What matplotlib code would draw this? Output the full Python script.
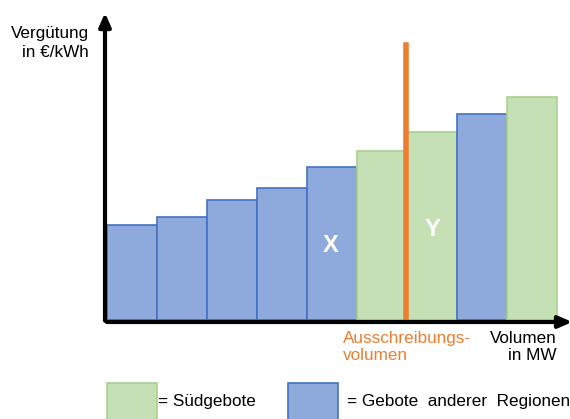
import matplotlib.pyplot as plt
from matplotlib.patches import Rectangle

# Gebote in Merit-Order: Preis je Gebot (Höhe), Region (Süd / andere)
preise = [9.5, 10.3, 12.0, 13.2, 15.3, 16.9, 18.8, 20.6, 22.3]
regionen = ["andere", "andere", "andere", "andere", "andere", "sued", "sued", "andere", "sued"]
ausschreibung = 6.0        # Ausschreibungsvolumen (Anzahl Gebotsblöcke)
linie_hoehe = 27.5

BLAU, BLAU_RAND = "#8EA9DB", "#4472C4"
GRUEN, GRUEN_RAND = "#C5E0B4", "#A9D18E"
ORANGE = "#ED7D31"

plt.rcParams["font.family"] = ["Liberation Sans", "DejaVu Sans"]
FS = 12.3

fig = plt.figure(figsize=(5.7, 4.19), dpi=100)
ax = fig.add_axes([0, 0, 1, 1])
ax.set_xlim(-2.14, 9.26)
ax.set_ylim(-9.9, 32.0)
ax.axis("off")

for i, (p, r) in enumerate(zip(preise, regionen)):
    fc, ec = (GRUEN, GRUEN_RAND) if r == "sued" else (BLAU, BLAU_RAND)
    ax.bar(i, p, width=1, align="edge", color=fc, edgecolor=ec, linewidth=1.2, zorder=2)

# Zuschlagsgrenze
ax.plot([ausschreibung - 0.02] * 2, [0, linie_hoehe], color=ORANGE, lw=4, zorder=3)

# Achsen mit Pfeilen
pfeil = dict(arrowstyle="-|>,head_length=0.8,head_width=0.35", lw=3, color="black")
ax.annotate("", xy=(9.36, -0.2), xytext=(-0.06, -0.2), arrowprops=pfeil,
            annotation_clip=False, zorder=4)
ax.annotate("", xy=(-0.04, 31.0), xytext=(-0.04, -0.35), arrowprops=pfeil,
            annotation_clip=False, zorder=4)

ax.text(4.48, 7.5, "X", color="white", fontsize=17, fontweight="bold", ha="center", va="center", zorder=5)
ax.text(6.5, 9.1, "Y", color="white", fontsize=17, fontweight="bold", ha="center", va="center", zorder=5)

ax.text(-0.36, 29.4, "Vergütung\nin €/kWh", ha="right", va="top", fontsize=FS, linespacing=1.36)
ax.text(4.72, -1.1, "Ausschreibungs-\nvolumen", ha="left", va="top", fontsize=FS,
        color=ORANGE, linespacing=1.2)
ax.text(9.0, -1.1, "Volumen\nin MW", ha="right", va="top", fontsize=FS, linespacing=1.2)

# Legende
ax.add_patch(Rectangle((0.0, -10.5), 1.0, 4.2, facecolor=GRUEN, edgecolor=GRUEN_RAND, lw=1.2))
ax.text(1.02, -8.1, "= Südgebote", ha="left", va="center", fontsize=FS)
ax.add_patch(Rectangle((3.62, -10.5), 1.0, 4.2, facecolor=BLAU, edgecolor=BLAU_RAND, lw=1.2))
ax.text(4.8, -8.1, "= Gebote  anderer  Regionen", ha="left", va="center", fontsize=FS)

fig.savefig("out.png", dpi=100)
